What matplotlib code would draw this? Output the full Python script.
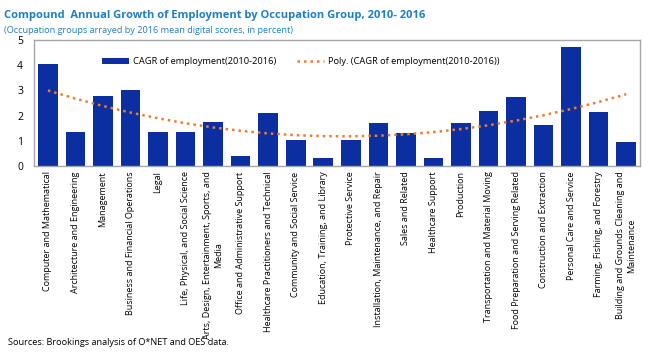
import numpy as np
import matplotlib.pyplot as plt

plt.rcParams['font.family'] = ['Open Sans', 'DejaVu Sans']

occupations = [
    'Computer and Mathematical',
    'Architecture and Engineering',
    'Management',
    'Business and Financial Operations',
    'Legal',
    'Life, Physical, and Social Science',
    'Arts, Design, Entertainment, Sports, and\nMedia',
    'Office and Administrative Support',
    'Healthcare Practitioners and Technical',
    'Community and Social Service',
    'Education, Training, and Library',
    'Protective Service',
    'Installation, Maintenance, and Repair',
    'Sales and Related',
    'Healthcare Support',
    'Production',
    'Transportation and Material Moving',
    'Food Preparation and Serving Related',
    'Construction and Extraction',
    'Personal Care and Service',
    'Farming, Fishing, and Forestry',
    'Building and Grounds Cleaning and\nMaintenance',
]
cagr = [4.05, 1.34, 2.77, 3.02, 1.34, 1.34, 1.75, 0.38, 2.09, 1.02, 0.33,
        1.02, 1.72, 1.30, 0.33, 1.69, 2.18, 2.74, 1.61, 4.72, 2.14, 0.95]

title_color = '#1f7fbf'
bar_color = '#0b2fa0'
trend_color = '#ed7d31'

x = np.arange(len(cagr))
# order-2 polynomial trendline, as in the Excel chart
coef = np.polyfit(x, cagr, 2)
trend = np.polyval(coef, x)

fig = plt.figure(figsize=(6.57, 3.53), dpi=100)
ax = fig.add_axes([0.052, 0.53, 0.922, 0.357])

bars = ax.bar(x, cagr, width=0.71, color=bar_color)
line, = ax.plot(x, trend, linestyle=(0, (1, 1.6)), color=trend_color, linewidth=1.8)

ax.set_xlim(-0.5, len(cagr) - 0.5)
ax.set_ylim(0, 5)
ax.set_yticks(range(6))
ax.tick_params(axis='y', length=0, labelsize=7.5, pad=8)
ax.tick_params(axis='x', length=0, pad=4)
ax.set_xticks(x)
ax.set_xticklabels(occupations, rotation=90, fontsize=6.5, ha='center',
                   va='top', multialignment='center')
for s in ax.spines.values():
    s.set_color('#a6a6a6')
    s.set_linewidth(1)

ax.legend([bars, line],
          ['CAGR of employment(2010-2016)', 'Poly. (CAGR of employment(2010-2016))'],
          loc='upper center', bbox_to_anchor=(0.44, 0.93), ncol=2, frameon=False,
          fontsize=6.7, handlelength=2.9, columnspacing=2.2, handletextpad=0.4)

fig.text(0.006, 0.955, 'Compound  Annual Growth of Employment by Occupation Group, 2010- 2016',
         fontsize=8, fontweight='bold', color=title_color, va='center')
fig.text(0.006, 0.913, '(Occupation groups arrayed by 2016 mean digital scores, in percent)',
         fontsize=6.6, color=title_color, va='center')
fig.text(0.012, 0.03, 'Sources: Brookings analysis of O*NET and OES data.',
         fontsize=6.6, color='black', va='center')

fig.savefig('out.png', dpi=100)
